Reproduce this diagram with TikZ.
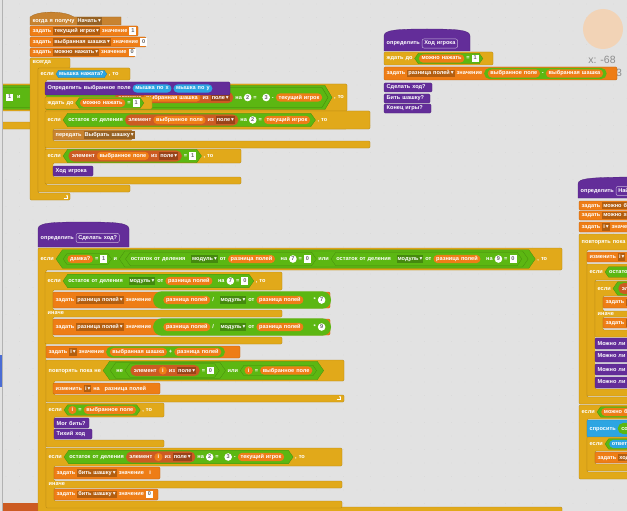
\documentclass[tikz,border=0pt]{standalone}
\usepackage{fontspec}
\setmainfont{Liberation Sans}
\newfontfamily\dvfont{DejaVu Sans}
\usetikzlibrary{shapes.misc,shapes.symbols,arrows.meta}
\definecolor{bgc}{HTML}{E2E2E2}
\definecolor{evt}{HTML}{C88330}
\definecolor{var}{HTML}{EE7D16}
\definecolor{lst}{HTML}{CC5B22}
\definecolor{ctl}{HTML}{E1A91A}
\definecolor{opc}{HTML}{5CB712}
\definecolor{sen}{HTML}{2CA5E2}
\definecolor{mor}{HTML}{632D99}
\definecolor{pal}{HTML}{4A6CD4}
\definecolor{spr}{HTML}{F2D3B6}
\newcount\nc
\newcommand\fsz{\fontsize{5.6}{6.5}\selectfont\bfseries\spaceskip=2pt plus .5pt minus .3pt}
\newcommand\st{\vrule height 4.1pt depth 1.1pt width 0pt}
\tikzset{
 nm/.style={/utils/exec={\global\advance\nc by 1}, name=q\the\nc},
 t/.style={nm, text=white, font=\fsz, inner sep=0pt, anchor=west},
 pl/.style={nm, rounded rectangle, fill=#1, text=white, font=\fsz, inner xsep=1.8pt, inner ysep=1.5pt},
 bl/.style={nm, signal, signal to=east and west, signal pointer angle=110, fill=#1, draw=#1!75!black, line width=.25pt, text=white, font=\fsz, inner xsep=0.6pt, inner ysep=1.1pt},
 ni/.style={nm, rounded rectangle, fill=white, text=black!60, font=\fsz, inner xsep=1pt, inner ysep=1.2pt, minimum width=7.5pt},
 ti/.style={nm, rectangle, fill=white, text=black!60, font=\fsz, inner xsep=1pt, inner ysep=1.2pt, minimum width=7pt},
 dd/.style={nm, rectangle, fill=#1!75!black, text=white, font=\fsz, inner xsep=1pt, inner ysep=1.3pt},
 hx/.style={nm, rectangle, rounded corners=2pt, draw=white!65!mor, line width=.4pt, fill=mor, text=white, font=\fsz, inner xsep=2.2pt, inner ysep=2pt},
 blk/.style={fill=#1, draw=#1!80!black, line width=.3pt, rounded corners=1.2pt},
 info/.style={nm, text=black!45, font=\fontsize{10.5}{12}\selectfont, inner sep=0pt}
}
\newcommand\R[2]{\tikz[baseline=(X.base)]\node[pl=#1](X){\st#2};}
\newcommand\B[1]{\tikz[baseline=(X.base)]\node[bl=opc](X){\st#1};}
\newcommand\Bs[1]{\tikz[baseline=(X.base)]\node[bl=sen](X){\st#1};}
\newcommand\N[1]{\tikz[baseline=(X.base)]\node[ni](X){\st#1};}
\newcommand\I[1]{\tikz[baseline=(X.base)]\node[ti](X){\st#1};}
\newcommand\D[2]{\tikz[baseline=(X.base)]\node[dd=#1](X){\st#2\,{\dvfont▾}};}
\newcommand\Hx[1]{\tikz[baseline=(X.base)]\node[hx](X){\st#1};}
\newcommand\Lst[1]{\R{lst}{#1}}
% stack block: col x1 y1 x2 y2 content
\newcommand\sblk[6]{%
 \path[blk=#1] (#2,#3) rectangle (#4,#5);
 \node[t] at (#2+2.5,{(#3+#5)/2}) {#6};}
% C block: col x1 y1 x2 y2 y3 content
\newcommand\cblk[7]{%
 \path[blk=#1] (#2,#3) -- (#4,#3) -- (#4,#5) -- (#2+8,#5) -- (#2+8,#6) -- (#4,#6) -- (#4,#6+7) -- (#2,#6+7) -- cycle;
 \node[t] at (#2+2.5,{(#3+#5)/2}) {#7};}
% if-else: col x1 y1 x2 y2 y3 y4 y5 content
\newcommand\ceblk[9]{%
 \path[blk=#1] (#2,#3) -- (#4,#3) -- (#4,#5) -- (#2+8,#5) -- (#2+8,#6) -- (#4,#6) -- (#4,#7) -- (#2+8,#7) -- (#2+8,#8) -- (#4,#8) -- (#4,#8+7) -- (#2,#8+7) -- cycle;
 \node[t] at (#2+2.5,{(#3+#5)/2}) {#9};
 \node[t] at (#2+2.5,{(#6+#7)/2}) {иначе};}
% event hat
\newcommand\hatE[6]{%
 \path[blk=#1, rounded corners=0pt] (#2,#5) -- (#2,#3+5) .. controls (#2+8,#3-1.5) and (#2+34,#3-1.5) .. (#2+44,#3+5) -- (#4,#3+5) -- (#4,#5) -- cycle;
 \node[t] at (#2+2.5,{(#3+5+#5)/2}) {#6};}
% define hat
\newcommand\hatD[6]{%
 \path[blk=#1, rounded corners=0pt] (#2,#5) -- (#2,#3+7) .. controls (#2,#3+1) and (#2+12,#3) .. ({(#2+#4)/2},#3) .. controls (#4-12,#3) and (#4,#3+1) .. (#4,#3+7) -- (#4,#5) -- cycle;
 \node[t] at (#2+2.5,{(#3+7+#5)/2}) {#6};}
\newcommand\larrow[2]{\draw[white, line width=.6pt, -{Stealth[length=1.6pt,width=1.8pt]}] (#1-3.5,#2+1.5) -- (#1,#2+1.5) -- (#1,#2-2.2);}
\begin{document}
\begin{tikzpicture}[x=1pt,y=-1pt]
\useasboundingbox (0,0) rectangle (627,511);
\clip (0,0) rectangle (627,511);
\fill[bgc] (0,0) rectangle (627,511);
\foreach \i in {0,...,46} \foreach \j in {0,...,38} \fill[black!16] (6+\i*13.5, 4+\j*13.5) circle (0.35);
% palette edge
\fill[pal] (0,355) rectangle (2.2,387);
\draw[black!30, line width=.8pt] (2.6,0) -- (2.6,511);
% sprite info
\fill[spr] (603,29) circle (20);
\node[info] at (602,60) {x: -68};
\node[info] at (619,73) {3};
% hidden script behind A
\begin{scope}
\clip (3,0) rectangle (627,511);
\cblk{ctl}{-20}{84}{347}{111}{122}{}
\path[fill=opc, draw=opc!75!black, line width=.3pt] (-20,85.5) -- (325,85.5) -- (332,97.5) -- (325,109.5) -- (-20,109.5) -- cycle;
\path[draw=opc!70!black, line width=.3pt] (-20,87.5) -- (322,87.5) -- (328,97.5) -- (322,107.5) -- (-20,107.5);
\node[t] at (6,97.5) {\I{1}\ \ и};
\node[t, anchor=east] at (326,97.5) {\Lst{элемент \R{var}{выбранная шашка} из \D{lst}{поле}} на \N{2} = \R{opc}{\N{3} - \R{var}{текущий игрок}}};
\node[t] at (334,97.5) {, то};
\end{scope}
\fill[lst] (3,503) rectangle (40,511);
% ===== Script A =====
\hatE{evt}{30}{12}{121}{25}{когда я получу \D{evt}{Начать}}
\sblk{var}{30}{26}{138}{36}{задать \D{var}{текущий игрок} значение \I{1}}
\sblk{var}{30}{37}{146}{47}{задать \D{var}{выбранная шашка} значение \I{0}}
\sblk{var}{30}{48}{135}{57}{задать \D{var}{можно нажать} значение \I{0}}
\cblk{ctl}{30}{58}{70}{68}{193}{всегда}
\larrow{67}{197}
\cblk{ctl}{38}{68}{130}{80}{185}{если \Bs{мышка нажата?} , то}
\sblk{mor}{45}{82}{230}{95}{Определить выбранное поле \R{sen}{мышка по x} \R{sen}{мышка по y}}
\sblk{ctl}{45}{97}{152}{109}{ждать до \B{\R{var}{можно нажать} = \I{1}}}
\cblk{ctl}{45}{111}{370}{129}{141}{если \B{остаток от деления \Lst{элемент \R{var}{выбранное поле} из \D{lst}{поле}} на \N{2} = \R{var}{текущий игрок}} , то}
\sblk{evt}{53}{130}{132}{140}{передать \D{evt}{Выбрать шашку}}
\cblk{ctl}{45}{149}{241}{163}{177}{если \B{\Lst{элемент \R{var}{выбранное поле} из \D{lst}{поле}} = \I{1}} , то}
\sblk{mor}{53}{166}{93}{176}{Ход игрока}
% ===== Script B =====
\hatD{mor}{384}{29}{470}{51}{определить \Hx{Ход игрока}}
\sblk{ctl}{384}{52}{493}{65}{ждать до \B{\R{var}{можно нажать} = \I{1}}}
\sblk{var}{384}{67}{617}{80}{задать \D{var}{разница полей} значение \R{opc}{\R{var}{выбранное поле} - \R{var}{выбранная шашка}}}
\sblk{mor}{384}{83}{432}{92}{Сделать ход?}
\sblk{mor}{384}{94}{430}{103}{Бить шашку?}
\sblk{mor}{384}{104}{431}{113}{Конец игры?}
% ===== Script C =====
\hatD{mor}{38}{222}{129}{247}{определить \Hx{Сделать ход?}}
\cblk{ctl}{38}{248}{562}{270}{507}{если \B{\B{\R{var}{дамка?} = \I{1}} и \B{\B{остаток от деления \R{opc}{\D{opc}{модуль} от \R{var}{разница полей}} на \N{7} = \I{0}} или \B{остаток от деления \R{opc}{\D{opc}{модуль} от \R{var}{разница полей}} на \N{9} = \I{0}}}} , то}
\ceblk{ctl}{45}{272}{282}{290}{310}{317}{337}{если \B{остаток от деления \R{opc}{\D{opc}{модуль} от \R{var}{разница полей}} на \N{7} = \I{0}} , то}
\sblk{var}{53}{292}{330}{308}{задать \D{var}{разница полей} значение \R{opc}{\R{opc}{\R{var}{разница полей} / \R{opc}{\D{opc}{модуль} от \R{var}{разница полей}}} * \N{7}}}
\sblk{var}{53}{319}{330}{335}{задать \D{var}{разница полей} значение \R{opc}{\R{opc}{\R{var}{разница полей} / \R{opc}{\D{opc}{модуль} от \R{var}{разница полей}}} * \N{9}}}
\sblk{var}{46}{346}{240}{358}{задать \D{var}{i} значение \R{opc}{\R{var}{выбранная шашка} + \R{var}{разница полей}}}
\cblk{ctl}{46}{360}{344}{381}{395}{повторять пока не \B{\B{не \B{\Lst{элемент \R{var}{i} из \D{lst}{поле}} = \I{0}}} или \B{\R{var}{i} = \R{var}{выбранное поле}}}}
\sblk{var}{53}{383}{160}{394}{изменить \D{var}{i} на \R{var}{разница полей}}
\larrow{340}{398}
\cblk{ctl}{46}{403}{164}{417}{440}{если \B{\R{var}{i} = \R{var}{выбранное поле}} , то}
\sblk{mor}{54}{418}{89}{428}{Мог бить?}
\sblk{mor}{54}{429}{92}{439}{Тихий ход}
\ceblk{ctl}{46}{448}{342}{466}{481}{488}{501}{если \B{остаток от деления \Lst{элемент \R{var}{i} из \D{lst}{поле}} на \N{2} = \R{opc}{\N{3} - \R{var}{текущий игрок}}} , то}
\sblk{var}{54}{467}{160}{479}{задать \D{var}{бить шашку} значение \R{var}{i}}
\sblk{var}{54}{489}{158}{500}{задать \D{var}{бить шашку} значение \I{0}}
% ===== Script D (right edge) =====
\hatD{mor}{578}{177}{720}{198}{определить \Hx{Найти ходы}}
\sblk{var}{579}{201}{700}{210}{задать \D{var}{можно бить} значение \I{0}}
\sblk{var}{579}{211}{700}{220}{задать \D{var}{можно ходить} значение \I{0}}
\sblk{var}{579}{222}{700}{232}{задать \D{var}{i} значение \I{0}}
\cblk{ctl}{579}{234}{700}{250}{397}{повторять пока не \B{\R{var}{i} = \N{64}}}
\sblk{var}{587}{252}{700}{262}{изменить \D{var}{i} на \I{1}}
\cblk{ctl}{587}{264}{700}{280}{389}{если \B{остаток от деления \R{var}{i} на \N{2} = \I{0}} , то}
\ceblk{ctl}{595}{281}{700}{296}{311}{317}{330}{если \B{\Lst{элемент \R{var}{i} из \D{lst}{поле}} = \I{0}} , то}
\sblk{var}{603}{297}{700}{308}{задать \D{var}{j} значение \I{0}}
\sblk{var}{603}{318}{700}{328}{задать \D{var}{j} значение \I{1}}
\sblk{mor}{595}{338}{700}{349}{Можно ли бить}
\sblk{mor}{595}{351}{700}{362}{Можно ли ходить}
\sblk{mor}{595}{364}{700}{375}{Можно ли бить}
\sblk{mor}{595}{377}{700}{388}{Можно ли ходить}
\cblk{ctl}{579}{405}{700}{419}{472}{если \B{\R{var}{можно бить} = \I{0}} , то}
\sblk{sen}{587}{420}{700}{437}{спросить \R{opc}{соединить \R{var}{текст} \I{?}}}
\cblk{ctl}{587}{437}{700}{451}{464}{если \B{\R{sen}{ответ} = \I{да}} , то}
\sblk{var}{595}{452}{700}{463}{задать \D{var}{ход} значение \R{sen}{ответ}}
\end{tikzpicture}
\end{document}
